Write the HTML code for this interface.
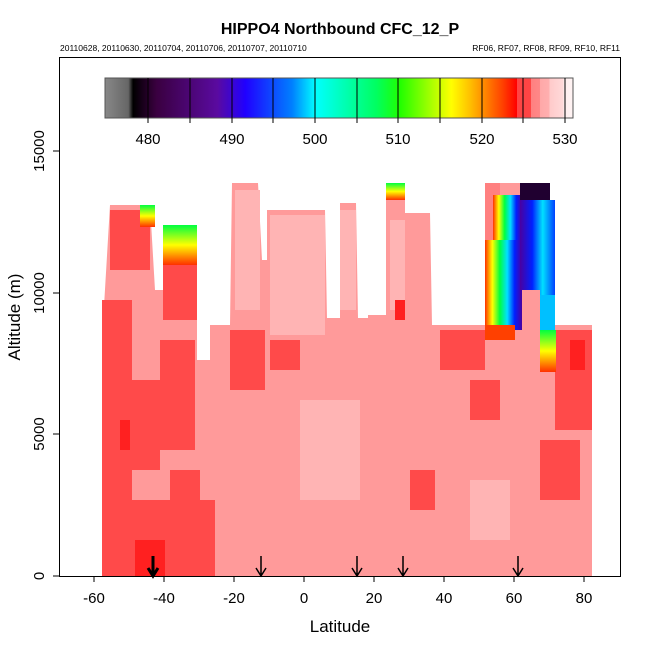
<!DOCTYPE html><html><head><style>body{margin:0;background:#fff}svg{display:block}text{font-family:"Liberation Sans",sans-serif}</style></head><body>
<svg width="650" height="650" viewBox="0 0 650 650">
<defs>
<linearGradient id="cb" x1="105" x2="573" y1="0" y2="0" gradientUnits="userSpaceOnUse">
<stop offset="0" stop-color="#888"/><stop offset="0.05" stop-color="#666"/><stop offset="0.06" stop-color="#000"/>
<stop offset="0.11" stop-color="#3a0040"/><stop offset="0.24" stop-color="#5a0aa0"/><stop offset="0.3" stop-color="#2000ff"/>
<stop offset="0.4" stop-color="#0080ff"/><stop offset="0.45" stop-color="#00ffff"/><stop offset="0.58" stop-color="#00ff60"/>
<stop offset="0.63" stop-color="#20ff00"/><stop offset="0.74" stop-color="#ffff00"/><stop offset="0.78" stop-color="#ffc000"/>
<stop offset="0.85" stop-color="#ff4000"/><stop offset="0.88" stop-color="#ff0000"/><stop offset="0.88" stop-color="#ff4444"/>
<stop offset="0.91" stop-color="#ff4444"/><stop offset="0.91" stop-color="#ff8080"/><stop offset="0.93" stop-color="#ff8888"/>
<stop offset="0.93" stop-color="#ffa8a8"/><stop offset="0.95" stop-color="#ffb0b0"/><stop offset="0.95" stop-color="#ffcaca"/>
<stop offset="0.98" stop-color="#ffdada"/><stop offset="0.98" stop-color="#ffeeee"/><stop offset="1" stop-color="#fff4f4"/>
</linearGradient>
<linearGradient id="rh" x1="0" x2="1" y1="0" y2="0"><stop offset="0" stop-color="#ff3000"/><stop offset="0.2" stop-color="#ffff00"/><stop offset="0.4" stop-color="#00ff40"/><stop offset="0.6" stop-color="#00e0ff"/><stop offset="0.8" stop-color="#0020ff"/><stop offset="1" stop-color="#4a00a0"/></linearGradient>
<linearGradient id="rh2" x1="0" x2="1" y1="0" y2="0"><stop offset="0" stop-color="#4a00a0"/><stop offset="0.35" stop-color="#0020ff"/><stop offset="0.65" stop-color="#00e0ff"/><stop offset="1" stop-color="#0040ff"/></linearGradient>
<linearGradient id="gy" x1="0" x2="0" y1="0" y2="1"><stop offset="0" stop-color="#00ff40"/><stop offset="0.5" stop-color="#ffff00"/><stop offset="1" stop-color="#ff3000"/></linearGradient>
</defs>
<text x="340" y="34" font-size="16" font-weight="bold" text-anchor="middle">HIPPO4 Northbound CFC_12_P</text>
<text x="60" y="51" font-size="8.5">20110628, 20110630, 20110704, 20110706, 20110707, 20110710</text>
<text x="620" y="51" font-size="8.5" text-anchor="end">RF06, RF07, RF08, RF09, RF10, RF11</text>
<polygon fill="#ff9a9a" points="102,576 102,340 110,205 150,205 155,290 163,290 163,225 197,225 197,360 210,360 210,325 230,325 232,183 258,183 262,260 267,260 267,210 325,210 327,318 340,318 340,203 356,203 358,318 368,318 368,315 386,315 386,183 405,183 405,213 430,213 432,325 485,325 485,183 548,183 548,325 592,325 592,576"/>
<g fill="#ff4a4a">
<rect x="102" y="300" width="30" height="276"/><rect x="110" y="210" width="40" height="60"/><rect x="132" y="380" width="28" height="90"/>
<rect x="163" y="250" width="34" height="70"/><rect x="160" y="340" width="35" height="110"/><rect x="170" y="470" width="30" height="106"/>
<rect x="230" y="330" width="35" height="60"/><rect x="105" y="500" width="110" height="76"/><rect x="270" y="340" width="30" height="30"/>
<rect x="440" y="330" width="45" height="40"/><rect x="555" y="330" width="37" height="100"/><rect x="540" y="440" width="40" height="60"/>
<rect x="470" y="380" width="30" height="40"/><rect x="410" y="470" width="25" height="40"/>
</g>
<g fill="#ffb4b4">
<rect x="270" y="215" width="55" height="120"/><rect x="235" y="190" width="25" height="120"/><rect x="340" y="210" width="16" height="100"/>
<rect x="300" y="400" width="60" height="100"/><rect x="390" y="220" width="15" height="90"/><rect x="470" y="480" width="40" height="60"/>
</g>
<g fill="#ff2020"><rect x="135" y="540" width="30" height="36"/><rect x="120" y="420" width="10" height="30"/><rect x="570" y="340" width="15" height="30"/><rect x="395" y="300" width="10" height="20"/></g>
<rect x="140" y="205" width="15" height="22" fill="url(#gy)"/>
<rect x="163" y="225" width="34" height="40" fill="url(#gy)"/>
<rect x="386" y="183" width="19" height="17" fill="url(#gy)"/>
<!-- right plume -->
<rect x="485" y="183" width="15" height="60" fill="#ff8080"/>
<rect x="485" y="240" width="37" height="90" fill="url(#rh)"/>
<rect x="493" y="195" width="29" height="45" fill="url(#rh)"/>
<rect x="485" y="325" width="30" height="15" fill="#ff4000"/>
<rect x="520" y="183" width="30" height="20" fill="#200030"/>
<rect x="520" y="200" width="35" height="100" fill="url(#rh2)"/>
<rect x="522" y="290" width="18" height="40" fill="#ff9a9a"/>
<rect x="540" y="295" width="15" height="35" fill="#00c0ff"/>
<rect x="540" y="330" width="16" height="42" fill="url(#gy)"/>
<g stroke="#000" stroke-width="1.5" fill="none">
<path d="M153,556V576M148,568L153,576L158,568" stroke-width="3"/>
<path d="M261,556V576M256,568L261,576L266,568"/>
<path d="M357,556V576M352,568L357,576L362,568"/>
<path d="M403,556V576M398,568L403,576L408,568"/>
<path d="M518,556V576M513,568L518,576L523,568"/>
</g>
<rect x="105" y="78" width="468" height="40" fill="url(#cb)" stroke="#555" stroke-width="1"/>
<g stroke="#000" stroke-width="1">
<path d="M148,78V123M190,78V123M232,78V123M273,78V123M315,78V123M357,78V123M398,78V123M440,78V123M482,78V123M523,78V123M565,78V123"/>
</g>
<g font-size="15" text-anchor="middle"><text x="148" y="144">480</text><text x="232" y="144">490</text><text x="315" y="144">500</text><text x="398" y="144">510</text><text x="482" y="144">520</text><text x="565" y="144">530</text></g>
<rect x="59.5" y="57.5" width="561" height="519" fill="none" stroke="#000"/>
<g stroke="#000"><path d="M94,576v6M164,576v6M234,576v6M304,576v6M374,576v6M444,576v6M514,576v6M584,576v6"/>
<path d="M59,576h-6M59,434h-6M59,293h-6M59,151h-6"/></g>
<g font-size="15" text-anchor="middle"><text x="94" y="603">-60</text><text x="164" y="603">-40</text><text x="234" y="603">-20</text><text x="304" y="603">0</text><text x="374" y="603">20</text><text x="444" y="603">40</text><text x="514" y="603">60</text><text x="584" y="603">80</text>
<text x="340" y="632" font-size="17">Latitude</text></g>
<g font-size="15" text-anchor="middle">
<text transform="translate(44,576) rotate(-90)">0</text><text transform="translate(44,434) rotate(-90)">5000</text><text transform="translate(44,293) rotate(-90)">10000</text><text transform="translate(44,151) rotate(-90)">15000</text>
<text transform="translate(20,317) rotate(-90)" font-size="17">Altitude (m)</text></g>
</svg></body></html>
